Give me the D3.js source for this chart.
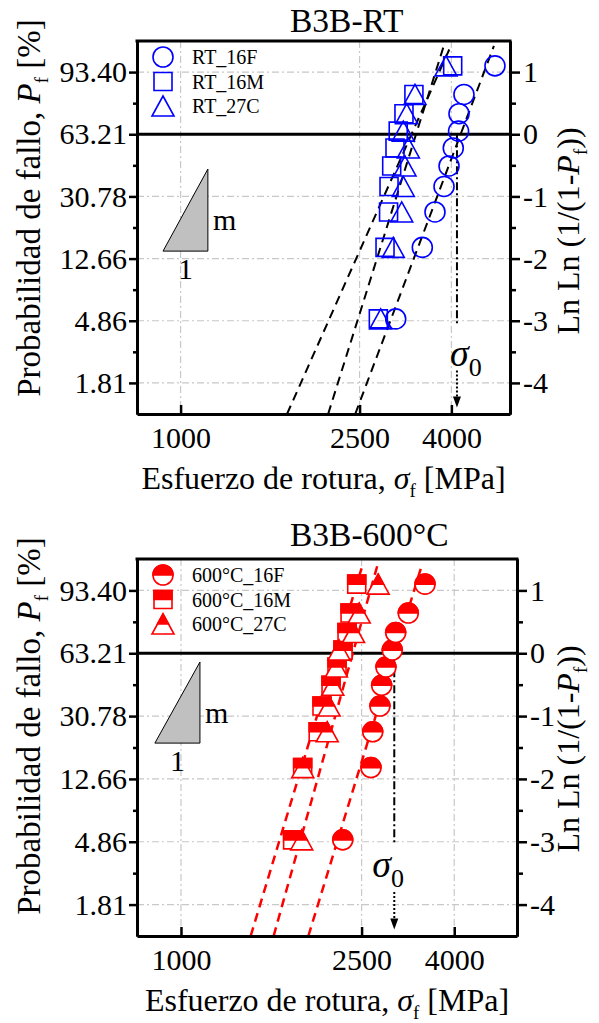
<!DOCTYPE html>
<html lang="en">
<head>
<meta charset="UTF-8">
<title>B3B Weibull</title>
<script src="https://cdn.jsdelivr.net/npm/d3@7"></script>
<style>
    body { margin: 0; background: #fff; }
    svg text { font-family: "Liberation Serif", "Times New Roman", serif; fill: #000; }
</style>
</head>
<body>
<svg id="chart" width="599" height="1023"></svg>
<script>
// Ln Ln(1/(1-Pf)) level of each ranked specimen (10 per series)
var lnlnRank = [-2.97, -1.82, -1.25, -0.84, -0.51, -0.22, 0.05, 0.33, 0.64, 1.10];

// fracture stress [MPa], room temperature
var rtNames = ["RT_16F", "RT_16M", "RT_27C"];
var rt16F = [3008, 3447, 3678, 3852, 3952, 4039, 4150, 4159, 4266, 5000];
var rt16M = [2752, 2848, 2900, 2907, 2947, 2997, 3047, 3138, 3302, 4027];
var rt27C = [2786, 2971, 3102, 3127, 3154, 3209, 3127, 3182, 3320, 3891];
var rtFitM = [8.34, 10.0, 7.06];
var rtFitS0 = [4194, 3338, 3262];
var rtSigma0 = 4116;

// fracture stress [MPa], 600 °C
var hotNames = ["600°C_16F", "600°C_16M", "600°C_27C"];
var hot16F = [2272, 2622, 2645, 2744, 2768, 2829, 2921, 2972, 3168, 3449];
var hot16M = [1762, 1854, 2006, 2045, 2141, 2207, 2275, 2322, 2358, 2439];
var hot27C = [1845, 1855, 2100, 2120, 2160, 2200, 2230, 2400, 2470, 2719];
var hotFitM = [10.25, 11.2, 10.4];
var hotFitS0 = [2960, 2391, 2195];
var hotSigma0 = 2951;

// axes
var lnlnTicks = [1, 0, -1, -2, -3, -4];
var lnlnMinor = [0.5, -0.5, -1.5, -2.5, -3.5];
var pfLabels = ["93.40", "63.21", "30.78", "12.66", "4.86", "1.81"];
var rightLabels = ["1", "0", "-1", "-2", "-3", "-4"];
var xTicks = [1000, 2500, 4000];
var yDomain = [-4.5, 1.5];

// slope triangle (corners in data units: x1, x2, yLow, yHigh)
var rtSlopeTri = [914, 1150, -1.88, -0.56];
var hotSlopeTri = [876, 1101, -1.43, -0.14];

var shapes = ["circle", "square", "triangle"];

var svg = d3.select("#chart");

var panels = [
    { title: "B3B-RT", top: 41, bottom: 414, left: 137, right: 510, xDomain: [800, 5400],
      names: rtNames, series: [rt16F, rt16M, rt27C], fitM: rtFitM, fitS0: rtFitS0,
      sigma0: rtSigma0, sigmaDx: -7, sigmaY: -3.72, color: "#0000ff", half: false,
      lineColor: "#000", tri: rtSlopeTri },
    { title: "B3B-600°C", top: 559, bottom: 936, left: 137, right: 517, xDomain: [800, 5500],
      names: hotNames, series: [hot16F, hot16M, hot27C], fitM: hotFitM, fitS0: hotFitS0,
      sigma0: hotSigma0, sigmaDx: -22, sigmaY: -3.56, color: "#ff0000", half: true,
      lineColor: "#ff0000", tri: hotSlopeTri }
];

function shapePath(s) {
    if (s === "circle") return "M-10,0A10,10 0 1,1 10,0A10,10 0 1,1 -10,0Z";
    if (s === "square") return "M-9,-9H9V9H-9Z";
    return "M0,-10L11,10H-11Z";
}
function halfPath(s) {
    if (s === "circle") return "M-10,0A10,10 0 0,1 10,0Z";
    if (s === "square") return "M-9,-9H9V0H-9Z";
    return "M0,-10L5.5,0H-5.5Z";
}
function drawMarker(g, s, cx, cy, p) {
    var m = g.append("g").attr("transform", "translate(" + cx + "," + cy + ")");
    m.append("path").attr("d", shapePath(s))
        .attr("fill", p.half ? "#fff" : "none")
        .attr("stroke", p.color).attr("stroke-width", 1.6);
    if (p.half) {
        m.append("path").attr("d", halfPath(s)).attr("fill", p.color)
            .attr("stroke", p.color).attr("stroke-width", 1.6);
    }
}

panels.forEach(function(p, pi) {
    var x = d3.scaleLog().domain(p.xDomain).range([p.left, p.right]);
    var y = d3.scaleLinear().domain(yDomain).range([p.bottom, p.top]);
    var w = p.right - p.left, h = p.bottom - p.top;
    var g = svg.append("g");

    // clip for the fit lines
    svg.append("clipPath").attr("id", "clip" + pi)
        .append("rect").attr("x", p.left).attr("y", p.top).attr("width", w).attr("height", h);

    // grid
    var grid = g.append("g").attr("stroke", "#c8c8c8").attr("stroke-width", 1.2)
        .attr("stroke-dasharray", "7,3,2,3");
    grid.selectAll(".vx").data(xTicks).enter().append("line")
        .attr("x1", function(d) { return x(d); }).attr("x2", function(d) { return x(d); })
        .attr("y1", p.top).attr("y2", p.bottom);
    grid.selectAll(".hy").data(lnlnTicks.filter(function(d) { return d !== 0; })).enter().append("line")
        .attr("x1", p.left).attr("x2", p.right)
        .attr("y1", function(d) { return y(d); }).attr("y2", function(d) { return y(d); });

    // zero line
    g.append("line").attr("x1", p.left).attr("x2", p.right)
        .attr("y1", y(0)).attr("y2", y(0)).attr("stroke", "#000").attr("stroke-width", 3);

    // slope triangle
    var t = p.tri;
    g.append("path")
        .attr("d", "M" + x(t[0]) + "," + y(t[2]) + "L" + x(t[1]) + "," + y(t[2]) + "L" + x(t[1]) + "," + y(t[3]) + "Z")
        .attr("fill", "#c0c0c0").attr("stroke", "#000").attr("stroke-width", 1);
    g.append("text").attr("x", x(t[1]) + 5).attr("y", (y(t[2]) + y(t[3])) / 2 + 20)
        .style("font-size", "30px").text("m");
    g.append("text").attr("x", (x(t[0]) + x(t[1])) / 2).attr("y", y(t[2]) + 28)
        .attr("text-anchor", "middle").style("font-size", "30px").text("1");

    // Weibull fit lines
    var line = d3.line().x(function(d) { return x(d[0]); }).y(function(d) { return y(d[1]); });
    var fits = g.append("g").attr("clip-path", "url(#clip" + pi + ")");
    p.fitM.forEach(function(m, i) {
        var s0 = p.fitS0[i];
        var pts = [[s0 * Math.exp(-4.5 / m), -4.5], [s0 * Math.exp(1.42 / m), 1.42]];
        fits.append("path").attr("d", line(pts)).attr("fill", "none")
            .attr("stroke", p.lineColor).attr("stroke-width", p.half ? 2.5 : 2)
            .attr("stroke-dasharray", "9,6");
    });

    // sigma0 marker
    var sx = x(p.sigma0);
    g.append("line").attr("x1", sx).attr("x2", sx).attr("y1", y(0)).attr("y2", y(-3.05))
        .attr("stroke", "#000").attr("stroke-width", 2).attr("stroke-dasharray", "8,3,2,3");
    g.append("line").attr("x1", sx).attr("x2", sx).attr("y1", y(-3.8)).attr("y2", y(-4.25))
        .attr("stroke", "#000").attr("stroke-width", 2).attr("stroke-dasharray", "2,2");
    g.append("path")
        .attr("d", "M" + (sx - 4) + "," + y(-4.22) + "L" + (sx + 4) + "," + y(-4.22) + "L" + sx + "," + (y(-4.22) + 11) + "Z")
        .attr("fill", "#000");
    var st = g.append("text").attr("x", sx + p.sigmaDx).attr("y", y(p.sigmaY)).style("font-size", "38px");
    st.append("tspan").style("font-style", "italic").text("σ");
    st.append("tspan").attr("dy", 10).style("font-size", "26px").text("0");

    // data markers
    p.series.forEach(function(ser, si) {
        ser.forEach(function(v, k) {
            drawMarker(g, shapes[si], x(v), y(lnlnRank[k]), p);
        });
    });

    // legend
    p.names.forEach(function(n, i) {
        var ly = p.top + 16 + i * 24.5;
        drawMarker(g, shapes[i], p.left + 26, ly, p);
        g.append("text").attr("x", p.left + 55).attr("y", ly + 7)
            .style("font-size", "20px").text(n);
    });

    // axes
    g.append("g").attr("transform", "translate(" + p.left + ",0)")
        .call(d3.axisLeft(y).tickValues(lnlnTicks).tickSize(8).tickSizeOuter(0).tickPadding(2)
            .tickFormat(function(d, i) { return pfLabels[i]; }));
    g.append("g").attr("transform", "translate(" + p.left + ",0)")
        .call(d3.axisLeft(y).tickValues(lnlnMinor).tickSize(4).tickSizeOuter(0).tickFormat(""));
    g.append("g").attr("transform", "translate(" + p.right + ",0)")
        .call(d3.axisRight(y).tickValues(lnlnTicks).tickSize(10).tickSizeOuter(0).tickPadding(3)
            .tickFormat(function(d, i) { return rightLabels[i]; }));
    g.append("g").attr("transform", "translate(" + p.right + ",0)")
        .call(d3.axisRight(y).tickValues(lnlnMinor).tickSize(6).tickSizeOuter(0).tickFormat(""));
    g.append("g").attr("transform", "translate(0," + p.bottom + ")")
        .call(d3.axisBottom(x).tickValues(xTicks).tickSize(-9).tickSizeOuter(0).tickPadding(13)
            .tickFormat(d3.format("d")));
    g.append("line").attr("x1", p.left - 1.5).attr("x2", p.right + 1.5)
        .attr("y1", p.top).attr("y2", p.top).attr("stroke", "#000").attr("stroke-width", 3);

    g.selectAll(".domain").attr("stroke-width", 3);
    g.selectAll(".tick line").attr("stroke-width", 2.5);
    g.selectAll(".tick text").style("font-size", "30px").style("font-family", "'Liberation Serif', serif");

    // titles
    g.append("text").attr("x", 290).attr("y", p.top - (pi ? 13 : 9))
        .style("font-size", "33.5px").text(p.title);

    var xt = g.append("text").attr("x", (p.left + p.right) / 2).attr("y", p.bottom + 75)
        .attr("text-anchor", "middle").style("font-size", "32px");
    xt.append("tspan").text("Esfuerzo de rotura, ");
    xt.append("tspan").style("font-style", "italic").text("σ");
    xt.append("tspan").attr("dy", 8).style("font-size", "19px").text("f");
    xt.append("tspan").attr("dy", -8).text(" [MPa]");

    var ylt = g.append("text")
        .attr("transform", "translate(40," + (p.top + 167) + ") rotate(-90)")
        .attr("text-anchor", "middle").style("font-size", "33px");
    ylt.append("tspan").text("Probabilidad de fallo, ");
    ylt.append("tspan").style("font-style", "italic").text("P");
    ylt.append("tspan").attr("dy", 8).style("font-size", "19px").text("f");
    ylt.append("tspan").attr("dy", -8).text(" [%]");

    var yrt = g.append("text")
        .attr("transform", "translate(579," + (p.top + 190) + ") rotate(-90)")
        .attr("text-anchor", "middle").style("font-size", "32px");
    yrt.append("tspan").text("Ln Ln (1/(1-");
    yrt.append("tspan").style("font-style", "italic").text("P");
    yrt.append("tspan").attr("dy", 8).style("font-size", "19px").text("f");
    yrt.append("tspan").attr("dy", -8).text("))");
});
</script>
</body>
</html>
